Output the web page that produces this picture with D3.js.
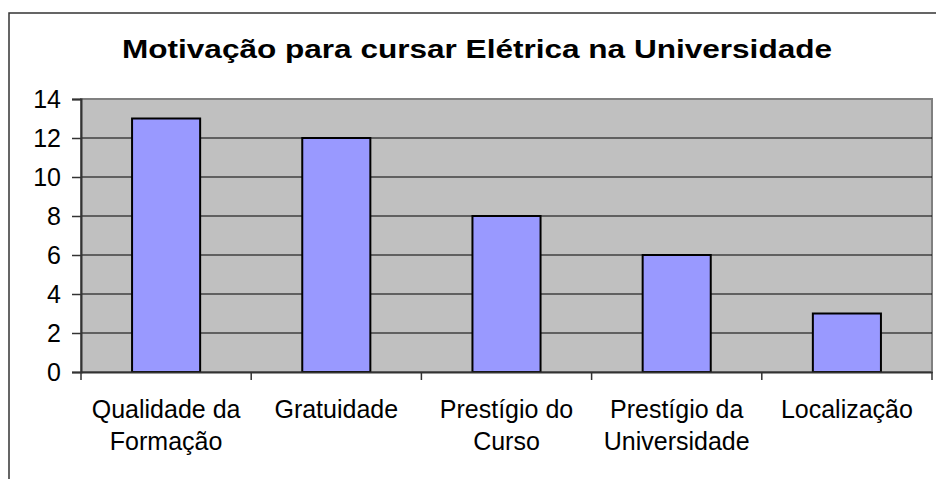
<!DOCTYPE html>
<html><head><meta charset="utf-8">
<script src="https://cdn.jsdelivr.net/npm/d3@7"></script>
<style>body{margin:0;background:#fff}svg{display:block}</style>
</head><body>
<svg id="c" width="936" height="479"></svg>
<script>
const title = "Motivação para cursar Elétrica na Universidade";
const categories = [["Qualidade da","Formação"],["Gratuidade"],["Prestígio do","Curso"],["Prestígio da","Universidade"],["Localização"]];
const categoryKeys = ["Qualidade da Formação","Gratuidade","Prestígio do Curso","Prestígio da Universidade","Localização"];
const values = [13, 12, 8, 6, 3];
const yTicks = [0,2,4,6,8,10,12,14];

const svg = d3.select("#c");
const font = "Arial, 'Liberation Sans', sans-serif";
const L = 81, R = 932, T = 99, B = 372;

// outer chart border
svg.append("rect").attr("x",9).attr("y",13).attr("width",1000).attr("height",1000)
  .attr("fill","#fff").attr("stroke","#333").attr("stroke-width",1.5);

svg.append("text").attr("x",122).attr("y",58)
  .attr("font-family",font).attr("font-weight","bold").attr("font-size",25.5)
  .attr("textLength",710).attr("lengthAdjust","spacingAndGlyphs").text(title);

const x = d3.scaleBand().domain(categoryKeys).range([L,R]).paddingInner(0.6).paddingOuter(0.3);
const xb = d3.scaleBand().domain(categoryKeys).range([L,R]);
const y = d3.scaleLinear().domain([0,14]).range([B,T]);

// plot area
svg.append("rect").attr("x",L).attr("y",T).attr("width",R-L).attr("height",B-T)
  .attr("fill","#c0c0c0").attr("stroke","#808080").attr("stroke-width",2);

// gridlines
svg.append("g").selectAll("line").data(yTicks.filter(d=>d>0 && d<14)).join("line")
  .attr("x1",L).attr("x2",R).attr("y1",d=>y(d)).attr("y2",d=>y(d))
  .attr("stroke","#000").attr("stroke-width",1);

// bars
svg.append("g").selectAll("rect").data(values).join("rect")
  .attr("x",(d,i)=>x(categoryKeys[i])).attr("width",x.bandwidth())
  .attr("y",d=>y(d)).attr("height",d=>y(0)-y(d))
  .attr("fill","#9999ff").attr("stroke","#000").attr("stroke-width",2);

// y axis
const ya = svg.append("g").attr("transform",`translate(${L},0)`)
  .call(d3.axisLeft(y).tickValues(yTicks).tickSize(9).tickPadding(11).tickFormat(d3.format("d")));
ya.select(".domain").attr("stroke","#333").attr("stroke-width",2);
ya.selectAll(".tick line").attr("stroke","#333").attr("stroke-width",1.5);
ya.selectAll("text").attr("font-family",font).attr("font-size",25).attr("fill","#000").attr("dy","0.35em");

// x axis
const xa = svg.append("g").attr("transform",`translate(0,${B})`)
  .call(d3.axisBottom(xb).tickSize(0).tickFormat(""));
xa.select(".domain").attr("stroke","#333").attr("stroke-width",2);
const bounds = categoryKeys.map(k=>xb(k)).concat([R]);
xa.append("g").selectAll("line").data(bounds).join("line")
  .attr("x1",d=>d).attr("x2",d=>d).attr("y1",0).attr("y2",8)
  .attr("stroke","#333").attr("stroke-width",1.5);

const lbl = svg.append("g").selectAll("text").data(categories).join("text")
  .attr("font-family",font).attr("font-size",25).attr("text-anchor","middle")
  .attr("x",(d,i)=>xb(categoryKeys[i])+xb.bandwidth()/2).attr("y",418);
lbl.selectAll("tspan").data(d=>d).join("tspan")
  .attr("x",function(){return this.parentNode.getAttribute("x");})
  .attr("dy",(d,i)=>i===0?0:32).text(d=>d);
</script>
</body></html>
